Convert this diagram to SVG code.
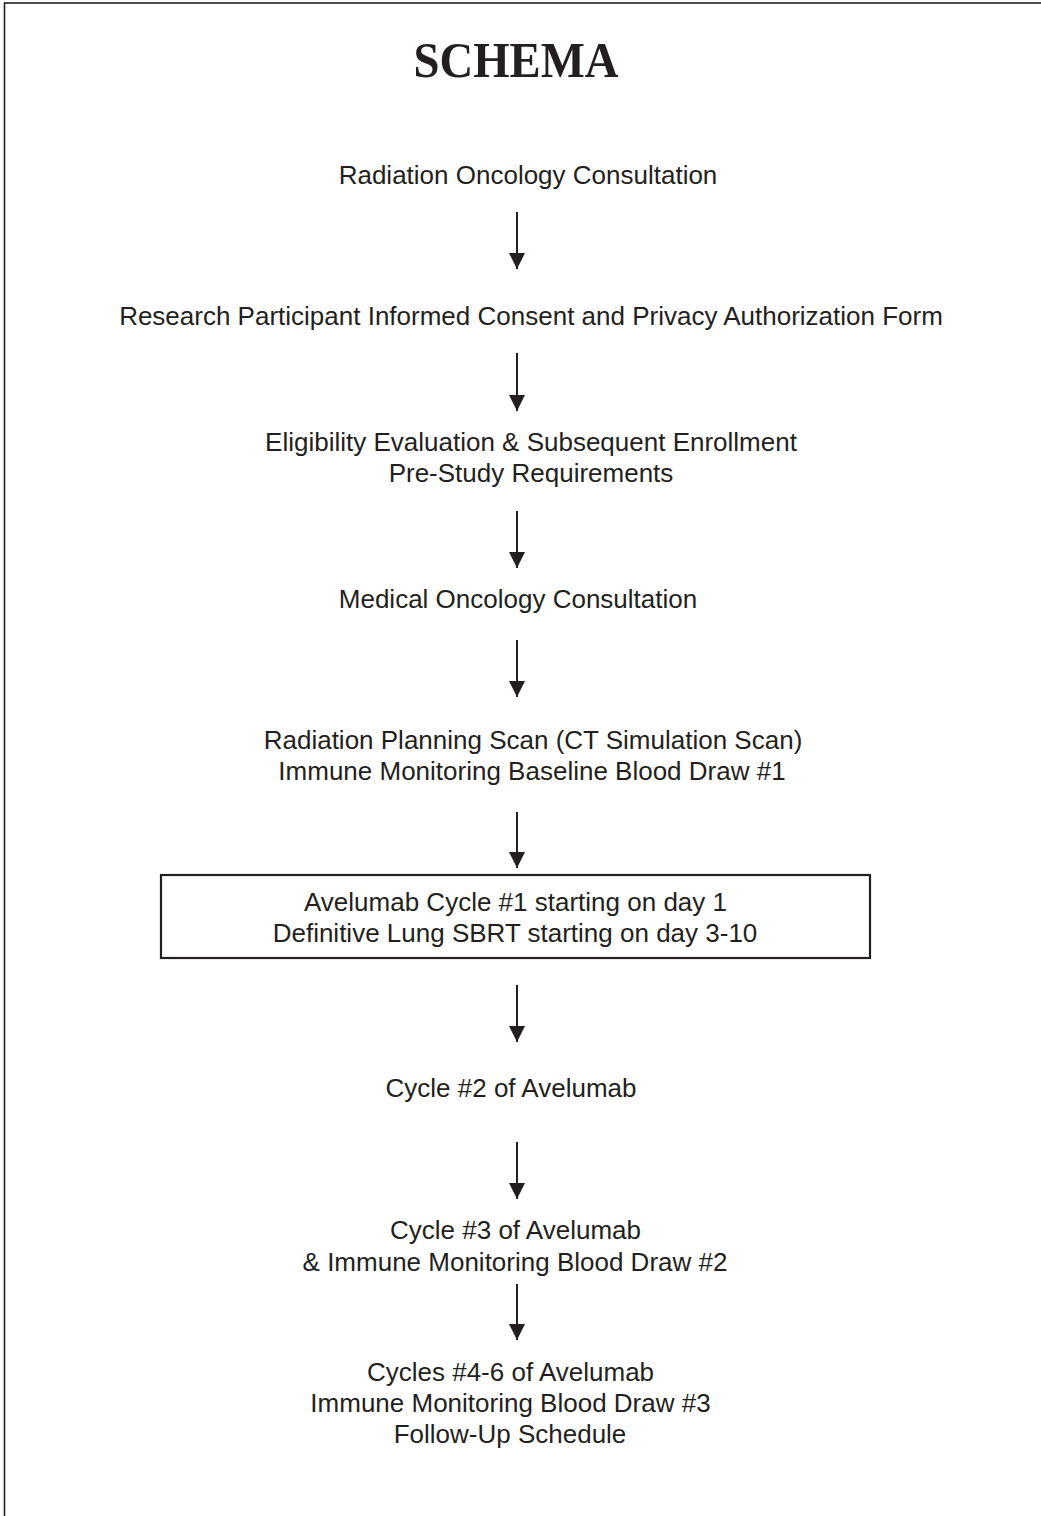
<svg xmlns="http://www.w3.org/2000/svg" width="1041" height="1516" viewBox="0 0 1041 1516">
<defs>
<marker id="ah" markerWidth="16" markerHeight="16" refX="16" refY="8" orient="auto" markerUnits="userSpaceOnUse">
<path d="M0,0 L16,8 L0,16 Z" fill="#231f20"/>
</marker>
<style>
.t{font-family:"Liberation Sans",Arial,sans-serif;font-size:26px;fill:#231f20;text-anchor:middle}
.ti{font-family:"Liberation Serif","Times New Roman",serif;font-size:51px;font-weight:bold;fill:#231f20;text-anchor:middle}
.c{stroke:#231f20;stroke-width:2;fill:none;marker-end:url(#ah)}
.b{fill:#fff;stroke:#231f20;stroke-width:2.2}
</style>
</defs>
<rect width="1041" height="1516" fill="#fff"/>
<rect x="4.5" y="3" width="1100" height="1600" fill="none" stroke="#231f20" stroke-width="1.6"/>
<g id="title"><text class="ti" x="516" y="77" textLength="205" lengthAdjust="spacingAndGlyphs">SCHEMA</text></g>
<g id="n1"><text class="t" x="528" y="184">Radiation Oncology Consultation</text></g>
<g id="n2"><text class="t" x="531" y="325">Research Participant Informed Consent and Privacy Authorization Form</text></g>
<g id="n3"><text class="t" x="531" y="451">Eligibility Evaluation &amp; Subsequent Enrollment</text><text class="t" x="531" y="482">Pre-Study Requirements</text></g>
<g id="n4"><text class="t" x="518" y="608">Medical Oncology Consultation</text></g>
<g id="n5"><text class="t" x="533" y="749">Radiation Planning Scan (CT Simulation Scan)</text><text class="t" x="532" y="780">Immune Monitoring Baseline Blood Draw #1</text></g>
<g id="n6"><rect class="b" x="161" y="875" width="709" height="83"/><text class="t" x="515.5" y="911">Avelumab Cycle #1 starting on day 1</text><text class="t" x="515" y="942">Definitive Lung SBRT starting on day 3-10</text></g>
<g id="n7"><text class="t" x="511" y="1097">Cycle #2 of Avelumab</text></g>
<g id="n8"><text class="t" x="515.5" y="1239">Cycle #3 of Avelumab</text><text class="t" x="515" y="1271">&amp; Immune Monitoring Blood Draw #2</text></g>
<g id="n9"><text class="t" x="510.5" y="1381">Cycles #4-6 of Avelumab</text><text class="t" x="510.5" y="1412">Immune Monitoring Blood Draw #3</text><text class="t" x="510" y="1443">Follow-Up Schedule</text></g>
<g id="connectors">
<line class="c" x1="517" y1="212" x2="517" y2="269"/>
<line class="c" x1="517" y1="353" x2="517" y2="411"/>
<line class="c" x1="517" y1="511" x2="517" y2="568"/>
<line class="c" x1="517" y1="640" x2="517" y2="697"/>
<line class="c" x1="517" y1="812" x2="517" y2="868"/>
<line class="c" x1="517" y1="985" x2="517" y2="1042"/>
<line class="c" x1="517" y1="1142" x2="517" y2="1199"/>
<line class="c" x1="517" y1="1284" x2="517" y2="1340"/>
</g>
</svg>
